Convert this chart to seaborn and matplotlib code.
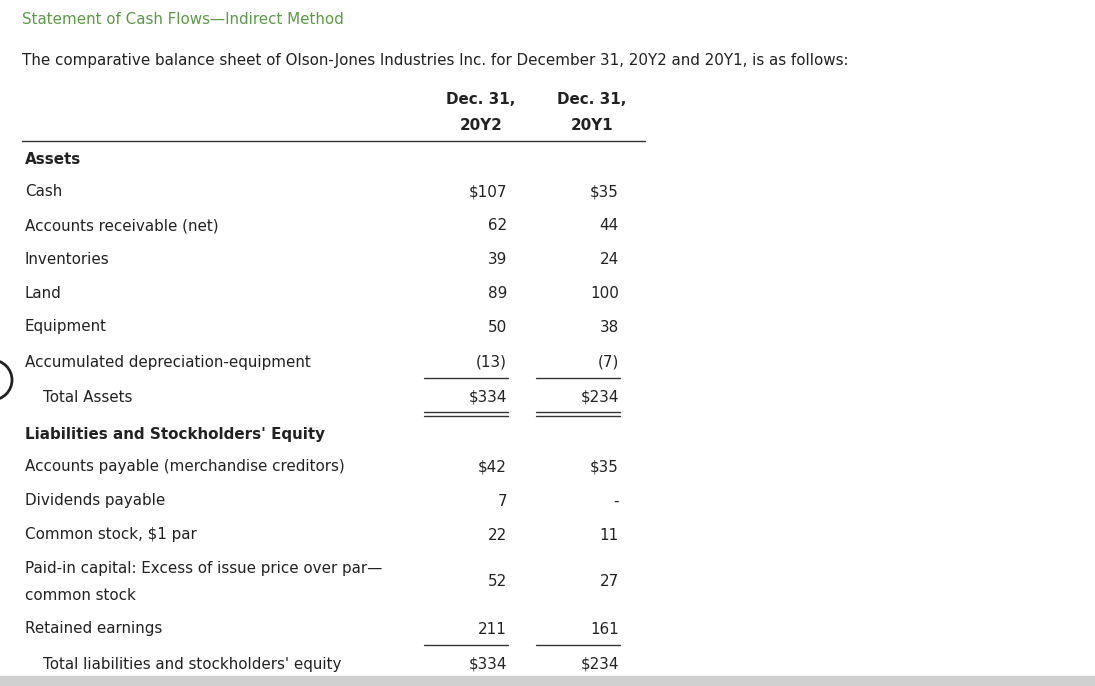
import matplotlib
matplotlib.use("Agg")
import matplotlib.pyplot as plt
import seaborn as sns
from matplotlib.patches import Circle

sns.set_theme(style="white")

title = "Statement of Cash Flows\u2014Indirect Method"
intro = "The comparative balance sheet of Olson-Jones Industries Inc. for December 31, 20Y2 and 20Y1, is as follows:"
col_heads = [("Dec. 31,", "20Y2"), ("Dec. 31,", "20Y1")]

row_labels = ["Assets", "Cash", "Accounts receivable (net)", "Inventories", "Land", "Equipment",
              "Accumulated depreciation-equipment", "Total Assets",
              "Liabilities and Stockholders' Equity", "Accounts payable (merchandise creditors)",
              "Dividends payable", "Common stock, $1 par",
              "Paid-in capital: Excess of issue price over par\u2014\ncommon stock",
              "Retained earnings", "Total liabilities and stockholders' equity"]
values_y2 = ["", "$107", "62", "39", "89", "50", "(13)", "$334", "", "$42", "7", "22", "52", "211", "$334"]
values_y1 = ["", "$35", "44", "24", "100", "38", "(7)", "$234", "", "$35", "-", "11", "27", "161", "$234"]
row_kind = ["head", "", "", "", "", "", "under", "total", "head", "", "", "", "", "under", "total"]
row_height = [33, 34, 34, 34, 33, 35, 35, 37, 33, 34, 34, 47, 47, 35, 34]

fig = plt.figure(figsize=(10.95, 6.86), dpi=100)
ax = fig.add_axes([0, 0, 1, 1])
ax.set_xlim(0, 1095)
ax.set_ylim(686, 0)
ax.axis("off")

fs = 10.9
ax.text(22, 20, title, color="#5b9a46", fontsize=fs, va="center")
ax.text(22, 61, intro, color="#222222", fontsize=fs, va="center")
cx = [481, 592]
for x, (a, b) in zip(cx, col_heads):
    ax.text(x, 99, a, fontsize=fs, weight="bold", ha="center", va="center", color="#222")
    ax.text(x, 125, b, fontsize=fs, weight="bold", ha="center", va="center", color="#222")
ax.plot([22, 645], [141, 141], color="#333", lw=1)

y = 159
for lab, v2, v1, kind, h in zip(row_labels, values_y2, values_y1, row_kind, row_height):
    indent = 43 if kind == "total" else 25
    if "\n" in lab:
        l1, l2 = lab.split("\n")
        ax.text(indent, y - 13, l1, fontsize=fs, va="center", color="#222")
        ax.text(indent, y + 13, l2, fontsize=fs, va="center", color="#222")
    else:
        ax.text(indent, y, lab, fontsize=fs, va="center", color="#222",
                weight="bold" if kind == "head" else "normal")
    ax.text(507, y, v2, fontsize=fs, ha="right", va="center", color="#222")
    ax.text(619, y, v1, fontsize=fs, ha="right", va="center", color="#222")
    for x0, x1 in [(424, 508), (536, 620)]:
        if kind == "under":
            ax.plot([x0, x1], [y + 16, y + 16], color="#333", lw=1)
        if kind == "total" and y < 600:
            ax.plot([x0, x1], [y + 15, y + 15], color="#333", lw=1)
            ax.plot([x0, x1], [y + 19, y + 19], color="#333", lw=1)
    y += h

ax.add_patch(Circle((-8, 380), 20, fill=False, lw=2, color="#222"))
ax.add_patch(plt.Rectangle((0, 676), 1095, 10, color="#d0d0d0"))

fig.savefig("out.png", dpi=100)
